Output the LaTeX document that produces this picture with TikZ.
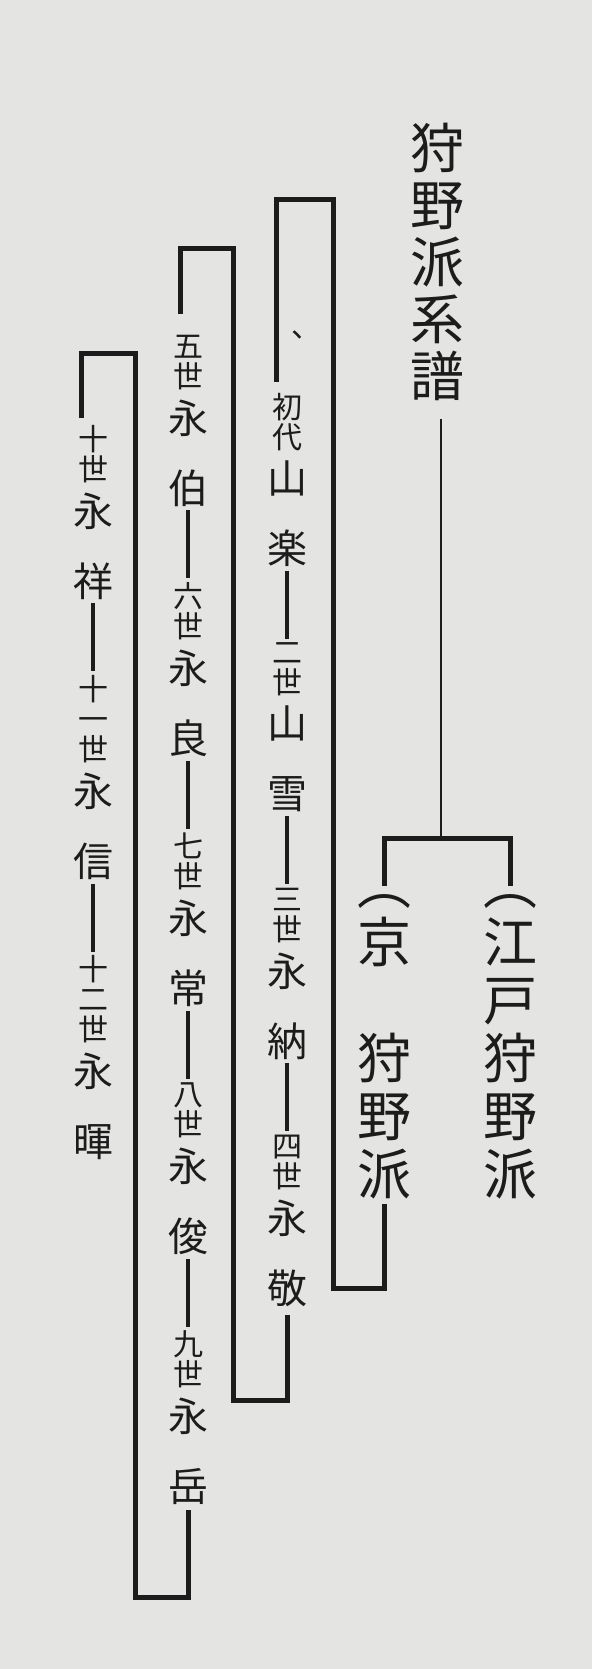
\documentclass[tikz,border=0pt]{standalone}
\usepackage{fontspec}
\setmainfont{Noto Sans CJK JP}
\usepackage{tikz}
\usetikzlibrary{positioning}
\definecolor{paper}{RGB}{228,229,226}
\definecolor{ink}{RGB}{28,28,28}

\begin{document}
\begin{tikzpicture}[x=1pt,y=1pt,line join=miter]
  \tikzstyle{every node}=[inner sep=0pt,outer sep=0pt,text=ink,align=center]
  \tikzstyle{heading}=[font=\fontsize{54}{57}\selectfont]
  \tikzstyle{school}=[font=\fontsize{54}{58}\selectfont]
  \tikzstyle{gen}=[font=\fontsize{30}{30}\selectfont]
  \tikzstyle{given}=[font=\fontsize{40}{70}\selectfont]
  \tikzstyle{bracket}=[draw=ink,line width=5pt]
  \tikzstyle{link}=[draw=ink,line width=4pt,shorten <=4pt,shorten >=4pt]
  \tikzstyle{hair}=[draw=ink,line width=1.4pt]

  \fill[paper] (0,0) rectangle (592,-1669);
  \useasboundingbox (0,0) rectangle (592,-1669);

  % title and the two schools
  \node[heading,anchor=north] (head) at (437,-123) {狩\\野\\派\\系\\譜};
  \node[school,anchor=north]  (edo)  at (510,-894) {︵\\江\\戸\\狩\\野\\派};
  \node[school,anchor=north]  (kyo)  at (384,-894) {︵\\京\\　\\狩\\野\\派};

  \coordinate (fork) at (441,-838);
  \draw[hair] (fork |- head.south) ++(0,-18) -- (fork);
  \draw[bracket] ([yshift=8pt]kyo.north) |- (fork) -| ([yshift=8pt]edo.north);

  % first column
  \node[gen,anchor=north] (g1) at (287,-393) {初\\代};
  \node[given] (n1) [below=10pt of g1] {山\\楽};
  \node[gen]   (g2) [below=76pt of n1] {二\\世};
  \node[given] (n2) [below=10pt of g2] {山\\雪};
  \node[gen]   (g3) [below=76pt of n2] {三\\世};
  \node[given] (n3) [below=10pt of g3] {永\\納};
  \node[gen]   (g4) [below=76pt of n3] {四\\世};
  \node[given] (n4) [below=10pt of g4] {永\\敬};
  \node[gen]   (tick) at (306,-335)    {、};

  % second column
  \node[gen,anchor=north] (g5) at (188,-335) {五\\世};
  \node[given] (n5) [below=10pt of g5] {永\\伯};
  \node[gen]   (g6) [below=76pt of n5] {六\\世};
  \node[given] (n6) [below=10pt of g6] {永\\良};
  \node[gen]   (g7) [below=76pt of n6] {七\\世};
  \node[given] (n7) [below=10pt of g7] {永\\常};
  \node[gen]   (g8) [below=76pt of n7] {八\\世};
  \node[given] (n8) [below=10pt of g8] {永\\俊};
  \node[gen]   (g9) [below=76pt of n8] {九\\世};
  \node[given] (n9) [below=10pt of g9] {永\\岳};

  % third column
  \node[gen,anchor=north] (g10) at (93,-425) {十\\世};
  \node[given] (n10) [below=10pt of g10] {永\\祥};
  \node[gen]   (g11) [below=76pt of n10] {十\\一\\世};
  \node[given] (n11) [below=10pt of g11] {永\\信};
  \node[gen]   (g12) [below=76pt of n11] {十\\二\\世};
  \node[given] (n12) [below=10pt of g12] {永\\暉};

  \foreach \a/\b in {n1/g2,n2/g3,n3/g4,n5/g6,n6/g7,n7/g8,n8/g9,n10/g11,n11/g12}
    \draw[link] (\a) -- (\b);

  % brackets carrying one column over to the next
  \coordinate (kyoB) at (333,-1288);
  \coordinate (kyoT) at (333,-200);
  \coordinate (c1B) at (233,-1400);
  \coordinate (c1T) at (233,-249);
  \coordinate (c2B) at (135,-1597);
  \coordinate (c2T) at (135,-353);

  \draw[bracket] ([yshift=-5pt]kyo.south) |- (kyoB) -- (kyoT) -| ([xshift=-11pt,yshift=11pt]g1.north);
  \draw[bracket] ([yshift=-8pt]n4.south) |- (c1B) -- (c1T) -| ([xshift=-8pt,yshift=21pt]g5.north);
  \draw[bracket] ([yshift=-6pt]n9.south) |- (c2B) -- (c2T) -| ([xshift=-12pt,yshift=7pt]g10.north);
\end{tikzpicture}
\end{document}
